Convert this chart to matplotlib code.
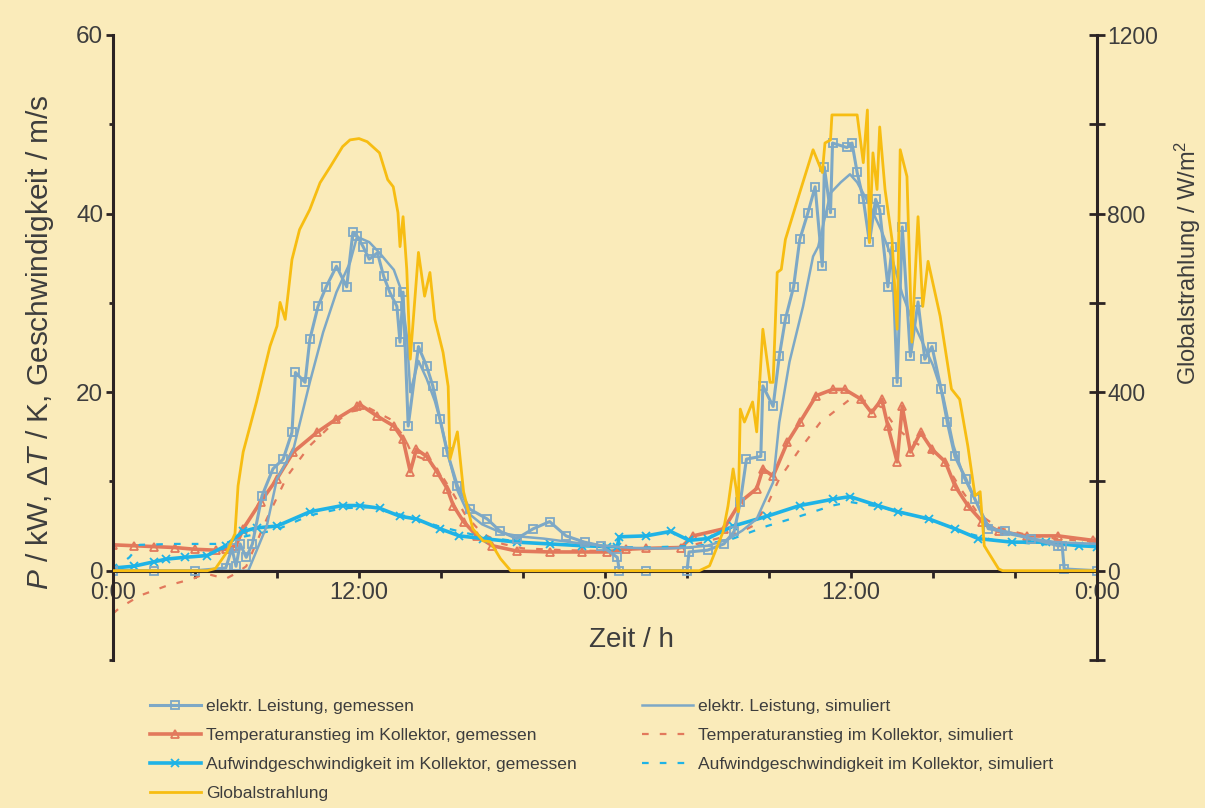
import numpy as np
import matplotlib
matplotlib.use("Agg")
import matplotlib.pyplot as plt
from matplotlib.ticker import FixedLocator, FuncFormatter

plt.rcParams['font.family'] = ['Liberation Sans', 'DejaVu Sans']
plt.rcParams['mathtext.fontset'] = 'custom'
plt.rcParams['mathtext.rm'] = 'Liberation Sans'
plt.rcParams['mathtext.it'] = 'Liberation Sans:italic'

# --- data (hours since first midnight) ---
# elektr. Leistung, gemessen (kW)
t_p_meas = [0, 2, 4, 5.5, 5.8, 6.0, 6.2, 6.5, 6.8, 7.27, 7.8, 8.3, 8.73, 8.9, 9.37, 9.6,
            10.0, 10.4, 10.9, 11.4, 11.7, 11.9, 12.2, 12.5, 12.9, 13.2, 13.5, 13.85, 14.0,
            14.15, 14.4, 14.9, 15.3, 15.6, 15.95, 16.3, 16.8, 17.4, 18.25, 18.9, 19.7, 20.5,
            21.3, 22.1, 23.0, 23.8, 24.6, 24.7, 26, 28.0, 28.1, 29, 29.8, 30.3, 30.6, 30.9,
            31.6, 31.7, 32.2, 32.5, 32.8, 33.2, 33.5, 33.9, 34.25, 34.6, 34.7, 35.0, 35.1,
            35.8, 36.05, 36.3, 36.6, 36.9, 37.2, 37.4, 37.8, 38.0, 38.25, 38.5, 38.9, 39.27,
            39.6, 39.95, 40.4, 40.7, 41.07, 41.6, 42.05, 42.7, 43.5, 44.8, 46.1, 46.3, 46.4, 48]
p_meas = [0, 0, 0, 0.3, 2.5, 0.5, 3.0, 1.5, 3.0, 8.4, 11.4, 12.5, 15.5, 22.2, 21.1, 25.9,
          29.6, 31.8, 34.1, 31.8, 37.9, 37.5, 36.3, 34.9, 35.6, 33.0, 31.2, 29.6, 25.6,
          31.2, 16.2, 25.1, 22.9, 20.7, 17.0, 13.3, 9.5, 6.9, 5.8, 4.4, 3.6, 4.7,
          5.5, 3.9, 3.2, 2.8, 1.5, 0, 0, 0, 2.1, 2.3, 3.0, 4.4, 7.7, 12.5,
          12.8, 20.7, 18.4, 24.0, 28.2, 31.8, 37.1, 40.1, 43.0, 34.1, 45.2, 40.1, 47.9,
          47.4, 47.9, 44.6, 41.6, 36.8, 41.6, 40.4, 31.8, 36.3, 21.1, 38.5, 24.0, 30.1,
          23.7, 25.1, 20.3, 16.6, 12.8, 10.3, 8.0, 4.7, 4.4, 3.6, 2.8, 2.8, 0.2, 0]

# elektr. Leistung, simuliert (kW)
t_p_sim = [0, 6.6, 7.5, 8.0, 8.8, 9.6, 10.25, 10.9, 11.56, 11.9, 12.5, 13.0, 13.4, 13.7,
           14.0, 14.15, 14.35, 14.5, 14.9, 15.3, 15.7, 16.0, 16.4, 16.8, 17.3, 18.0, 19, 20,
           21, 22, 23, 24, 25, 26, 27, 28, 29, 30, 30.7, 31.4, 32.2, 32.5, 33.0, 33.66,
           34.15, 34.4, 35.0, 35.5, 35.95, 36.3, 36.9, 37.5, 38.0, 38.5, 39.0, 39.5, 40.0,
           40.5, 41.0, 41.5, 42.0, 42.7, 43.5, 44.8, 46, 48]
p_sim = [0, 0, 5.0, 10.3, 13.6, 21.1, 26.7, 31.2, 34.5, 37.4, 36.8, 35.6, 34.5, 33.7,
         31.8, 29.6, 26.0, 20.0, 23.5, 21.5, 19.0, 16.5, 12.5, 9.0, 6.5, 5.2, 4.2, 3.8,
         3.6, 3.3, 3.0, 2.8, 2.6, 2.5, 2.5, 2.6, 2.8, 3.5, 4.5, 5.8, 9.9, 16.6, 23.4, 29.6,
         35.2, 36.3, 42.3, 43.5, 44.4, 43.5, 41.0, 38.0, 35.0, 31.0, 28.0, 25.5, 23.0,
         19.5, 14.0, 10.5, 8.2, 5.0, 4.2, 3.6, 3.2, 3.0]

# Temperaturanstieg im Kollektor, gemessen (K)
t_t_meas = [0, 1, 2, 3, 4, 5, 5.5, 6.0, 6.35, 7.2, 8.0, 8.8, 9.95, 10.9, 11.9, 12.05, 12.9,
            13.7, 14.15, 14.5, 14.8, 15.3, 15.8, 16.3, 16.6, 17.1, 17.75, 18.5, 19.7, 21.3,
            22.9, 24.1, 25, 26, 27.7, 28.3, 29.8, 30.6, 31.4, 31.7, 32.2, 32.9, 33.5, 34.3,
            35.1, 35.7, 36.5, 37.0, 37.5, 37.8, 38.25, 38.5, 38.9, 39.4, 39.95, 40.6, 41.07,
            41.7, 42.4, 43.2, 44.6, 46.1, 47.8, 48]
t_meas = [2.9, 2.8, 2.7, 2.6, 2.4, 2.3, 2.4, 2.8, 4.7, 7.7, 10.3, 13.3, 15.5, 17.0, 18.4,
          18.6, 17.3, 16.2, 14.7, 11.1, 13.6, 12.8, 11.1, 9.2, 7.3, 5.5, 3.9, 2.8, 2.2, 2.1,
          2.1, 2.1, 2.4, 2.5, 2.6, 3.9, 4.7, 7.7, 9.2, 11.4, 10.6, 14.4, 16.6, 19.6,
          20.3, 20.3, 19.2, 17.7, 19.2, 16.2, 12.2, 18.4, 13.3, 15.5, 13.6, 12.2, 9.5,
          7.3, 5.5, 4.4, 3.9, 3.9, 3.4, 3.3]

# Temperaturanstieg im Kollektor, simuliert (K)
t_t_sim = [0, 0.3, 1.3, 2.6, 3.9, 4.5, 5.5, 6.0, 6.5, 7.5, 8.5, 9.6, 10.6, 11.56, 12.5,
           13.5, 14.2, 14.6, 15.3, 16.0, 16.6, 17.2, 18.0, 19, 20, 22, 24, 26, 28, 29.8,
           30.6, 31.2, 31.9, 32.5, 33.5, 34.5, 35.95, 36.8, 37.5, 38.2, 39, 39.8, 40.6,
           41.4, 42.2, 43.2, 44.6, 46, 48]
t_sim = [-4.8, -4.2, -2.8, -1.7, -0.9, -0.3, -0.9, -0.3, 0.5, 5.8, 10.6, 14.0, 16.2, 17.8,
         18.2, 17.0, 15.0, 13.0, 12.4, 10.8, 8.6, 6.2, 4.2, 3.0, 2.5, 2.3, 2.2, 2.4, 2.7,
         3.8, 4.3, 5.0, 7.3, 10.3, 13.6, 16.6, 19.2, 19.0, 18.3, 16.0, 14.5, 13.5, 12.0,
         9.0, 6.4, 4.8, 4.0, 3.6, 3.2]

# Aufwindgeschwindigkeit im Kollektor, gemessen (m/s)
t_v_meas = [0, 1, 2, 2.6, 3.5, 4.6, 5.5, 6.35, 7.0, 8.0, 9.6, 11.2, 12.05, 13.0, 14.0, 14.8,
            15.95, 16.9, 18.05, 19.7, 21.3, 22.9, 24.1, 24.6, 24.7, 26, 27.2, 28.1, 29,
            30.25, 31.9, 33.5, 35.1, 35.95, 37.3, 38.3, 39.8, 41.07, 42.2, 43.85, 45.5, 47.1, 48]
v_meas = [0.3, 0.5, 1.0, 1.3, 1.5, 1.7, 2.8, 4.4, 4.8, 5.0, 6.6, 7.3, 7.3, 7.0, 6.1, 5.8,
          4.7, 3.9, 3.6, 3.2, 3.0, 2.8, 2.7, 2.7, 3.8, 3.9, 4.4, 3.4, 3.6,
          5.0, 6.1, 7.3, 8.0, 8.3, 7.3, 6.6, 5.8, 4.7, 3.6, 3.2, 3.2, 2.8, 2.7]

# Aufwindgeschwindigkeit im Kollektor, simuliert (m/s)
t_v_sim = [0, 0.8, 1.3, 3, 5, 5.5, 6.35, 8.0, 9.6, 11.2, 12.5, 14, 16, 18, 20, 22, 24, 26,
           28.6, 30.25, 31.9, 33.5, 35.1, 35.95, 37.3, 38.5, 40, 41.5, 43, 45, 48]
v_sim = [0.1, 1.5, 2.9, 3.0, 3.0, 3.1, 3.8, 4.6, 6.2, 7.0, 7.1, 6.3, 4.9, 3.8, 3.2, 2.9,
         2.7, 2.6, 2.8, 3.6, 5.0, 6.1, 7.3, 7.7, 7.2, 6.5, 5.6, 4.3, 3.4, 3.0, 2.7]

# Globalstrahlung (W/m2)
t_glob = [0, 4.6, 5.0, 5.56, 5.95, 6.1, 6.35, 7.0, 7.66, 8.0, 8.15, 8.4, 8.73, 9.1, 9.6,
          10.1, 10.6, 11.2, 11.56, 12.0, 12.4, 13.0, 13.4, 13.67, 13.9, 14.0, 14.15, 14.33,
          14.5, 14.9, 15.2, 15.46, 15.7, 16.1, 16.35, 16.44, 16.8, 17.1, 17.55, 18.05, 18.4,
          18.9, 19.4, 28.6, 29.1, 29.76, 30.0, 30.25, 30.4, 30.5, 30.6, 30.8, 31.2, 31.4,
          31.7, 32.05, 32.2, 32.4, 32.6, 32.8, 33.5, 34.15, 34.6, 34.73, 35.0, 35.07, 35.7,
          36.3, 36.6, 36.8, 36.9, 37.07, 37.27, 37.4, 37.66, 38.0, 38.25, 38.4, 38.73,
          38.97, 39.27, 39.5, 39.76, 40.35, 40.9, 41.3, 41.7, 42.05, 42.3, 42.5, 43.2, 43.4, 48]
glob = [0, 0, 5, 42, 83, 190, 266, 378, 503, 548, 601, 563, 697, 764, 809,
        869, 905, 950, 965, 968, 961, 936, 876, 860, 802, 726, 793, 675,
        474, 713, 615, 668, 563, 489, 413, 250, 311, 177, 94, 67, 65,
        27, 0, 0, 11, 87, 145, 228, 183, 132, 362, 333, 378, 311,
        541, 422, 422, 668, 675, 742, 847, 943, 892, 958, 965, 1021, 1021,
        1021, 914, 1032, 735, 936, 854, 994, 854, 742, 541, 943, 883,
        512, 793, 592, 693, 570, 407, 384, 279, 168, 177, 56, 4, 0, 0]

bg = '#FAEBBA'
dark = '#2b2323'
txt = '#3d3d3d'
c_p = '#7DA8C6'
c_t = '#E2795C'
c_v = '#1FB3E6'
c_g = '#F7BD12'

fig = plt.figure(figsize=(12.05, 8.08), dpi=100, facecolor=bg)
ax = fig.add_axes([113/1205, 1 - 660/808, 984/1205, 625/808])
ax.set_facecolor(bg)

l_tm, = ax.plot(t_t_meas, t_meas, color=c_t, lw=2.6, marker='^', ms=5.5, mfc='none', mew=1.3)
l_ts, = ax.plot(t_t_sim, t_sim, color=c_t, lw=1.6, ls=(0, (3, 5)))
l_vm, = ax.plot(t_v_meas, v_meas, color=c_v, lw=2.6, marker='x', ms=5.5, mew=1.3)
l_vs, = ax.plot(t_v_sim, v_sim, color=c_v, lw=1.6, ls=(0, (3, 5)))
l_pm, = ax.plot(t_p_meas, p_meas, color=c_p, lw=2.2, marker='s', ms=5.5, mfc='none', mew=1.3)
l_ps, = ax.plot(t_p_sim, p_sim, color=c_p, lw=1.8)

ax.set_xlim(0, 48)
ax.set_ylim(-10, 60)
ax.spines['top'].set_visible(False)
ax.spines['right'].set_visible(False)
ax.spines['bottom'].set_position(('data', 0))
for s in ('left', 'bottom'):
    ax.spines[s].set_color(dark)
    ax.spines[s].set_linewidth(2.2)

ax.xaxis.set_major_locator(FixedLocator([0, 12, 24, 36, 48]))
ax.xaxis.set_minor_locator(FixedLocator([4, 8, 16, 20, 28, 32, 40, 44]))
ax.xaxis.set_major_formatter(FuncFormatter(lambda h, pos: f"{int(h) % 24}:00"))
ax.tick_params(axis='x', which='both', direction='out', length=5, width=2, color=dark,
               labelsize=17, labelcolor=txt, pad=3)

ax.yaxis.set_major_locator(FixedLocator([0, 20, 40, 60]))
ax.yaxis.set_minor_locator(FixedLocator([-10, 10, 30, 50]))
ax.tick_params(axis='y', which='major', direction='out', length=5, width=2, color=dark,
               labelsize=17.5, labelcolor=txt, pad=2)
ax.tick_params(axis='y', which='minor', direction='out', length=3, width=2, color=dark)

fig.text(40/1205, 1 - 342/808, r'$P$ / kW, $\Delta T$ / K, Geschwindigkeit / m/s',
         rotation=90, ha='center', va='center', fontsize=21.5, color=txt)
ax.text(0.527, 0.032, 'Zeit / h', transform=ax.transAxes, ha='center', va='center',
        fontsize=20, color=txt)

ax2 = ax.twinx()
l_g, = ax2.plot(t_glob, glob, color=c_g, lw=2.0)
ax2.set_ylim(-200, 1200)
for s in ('top', 'bottom', 'left'):
    ax2.spines[s].set_visible(False)
ax2.spines['right'].set_color(dark)
ax2.spines['right'].set_linewidth(2.2)
ax2.yaxis.set_major_locator(FixedLocator([0, 400, 800, 1200]))
ax2.yaxis.set_minor_locator(FixedLocator([-200, 200, 600, 1000]))
ax2.tick_params(axis='y', which='both', direction='inout', length=11, width=2, color=dark,
                labelsize=16.5, labelcolor=txt, pad=2)
fig.text(1188/1205, 1 - 263/808, 'Globalstrahlung / W/m$^2$', rotation=90,
         ha='center', va='center', fontsize=17, color=txt)

leg_kw = dict(frameon=False, fontsize=12.6, handlelength=2.9, handletextpad=0.3,
              labelspacing=0.78, borderpad=0, borderaxespad=0, loc='upper left',
              labelcolor=txt)
leg1 = fig.legend([l_pm, l_tm, l_vm, l_g],
                  ['elektr. Leistung, gemessen', 'Temperaturanstieg im Kollektor, gemessen',
                   'Aufwindgeschwindigkeit im Kollektor, gemessen', 'Globalstrahlung'],
                  bbox_to_anchor=(150/1205, 1 - 699/808), **leg_kw)
leg2 = fig.legend([l_ps, l_ts, l_vs],
                  ['elektr. Leistung, simuliert', 'Temperaturanstieg im Kollektor, simuliert',
                   'Aufwindgeschwindigkeit im Kollektor, simuliert'],
                  bbox_to_anchor=(642/1205, 1 - 699/808), **leg_kw)

fig.savefig('out.png', dpi=100, facecolor=bg)
